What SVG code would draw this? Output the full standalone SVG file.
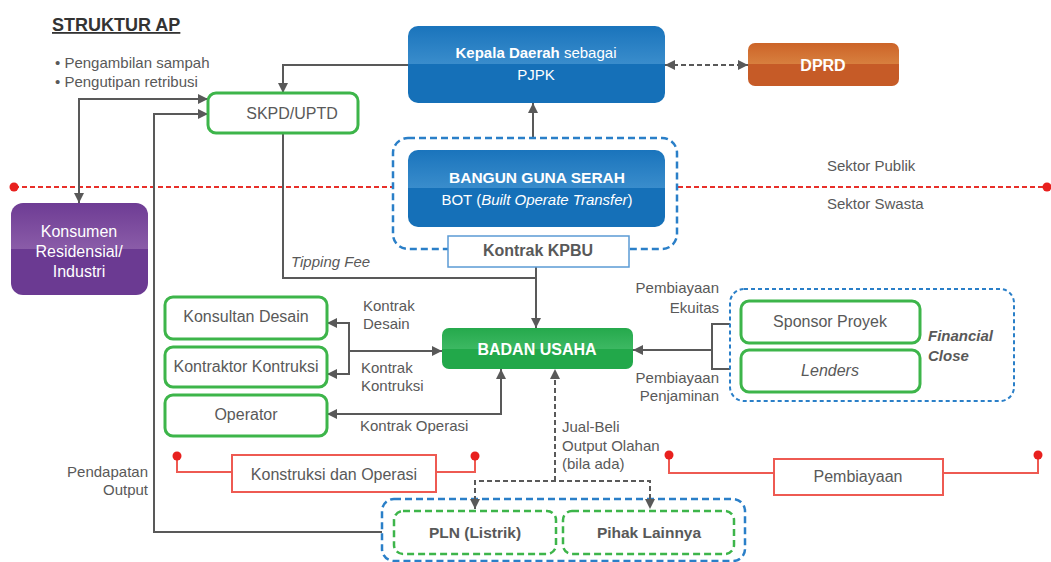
<svg xmlns="http://www.w3.org/2000/svg" width="1051" height="562" viewBox="0 0 1051 562">
  <style>
    text { font-family: "Liberation Sans", Arial, sans-serif; font-size: 15px; fill: #595959; }
    .n { font-size: 16px; }
    .w { fill: #ffffff; }
    .b { font-weight: bold; }
    .i { font-style: italic; }
    .mid { text-anchor: middle; }
    .end { text-anchor: end; }
    .conn { fill: none; stroke: #595959; stroke-width: 2; }
    .dash { stroke-dasharray: 5 3; }
    .gbox { fill: #ffffff; stroke: #3DB54A; stroke-width: 3; }
    .gdash { fill: #ffffff; stroke: #3DB54A; stroke-width: 2.5; stroke-dasharray: 7 4; }
    .bdash { fill: #ffffff; stroke: #2A7FC8; stroke-width: 2.5; stroke-dasharray: 7 4; }
    .red { fill: none; stroke: #EE5A52; stroke-width: 2; }
    .rbox { fill: #ffffff; stroke: #EE5A52; stroke-width: 2; }
    .dot { fill: #E8201E; }
  </style>
  <defs>
    <marker id="ah" viewBox="0 0 10 10" refX="10" refY="5" markerWidth="10" markerHeight="10" markerUnits="userSpaceOnUse" orient="auto-start-reverse">
      <path d="M0,0 L10,5 L0,10 z" fill="#595959"/>
    </marker>
    <linearGradient id="gBlue" x1="0" y1="0" x2="0" y2="1">
      <stop offset="0" stop-color="#1A74BC"/>
      <stop offset="0.5" stop-color="#3A8DCC"/>
      <stop offset="0.5" stop-color="#1570B8"/>
      <stop offset="1" stop-color="#1570B8"/>
    </linearGradient>
    <linearGradient id="gOrange" x1="0" y1="0" x2="0" y2="1">
      <stop offset="0" stop-color="#CC6428"/>
      <stop offset="0.5" stop-color="#D8803F"/>
      <stop offset="0.5" stop-color="#C65B27"/>
      <stop offset="1" stop-color="#C65B27"/>
    </linearGradient>
    <linearGradient id="gPurple" x1="0" y1="0" x2="0" y2="1">
      <stop offset="0" stop-color="#6E3C94"/>
      <stop offset="0.5" stop-color="#8A5CA8"/>
      <stop offset="0.5" stop-color="#6B3A92"/>
      <stop offset="1" stop-color="#6B3A92"/>
    </linearGradient>
    <linearGradient id="gGreen" x1="0" y1="0" x2="0" y2="1">
      <stop offset="0" stop-color="#25A94C"/>
      <stop offset="0.5" stop-color="#3CB862"/>
      <stop offset="0.5" stop-color="#22A84A"/>
      <stop offset="1" stop-color="#22A84A"/>
    </linearGradient>
  </defs>

  <rect width="1051" height="562" fill="#ffffff"/>

  <!-- title and notes -->
  <text x="52" y="31" class="b" style="font-size:18px;fill:#333333;text-decoration:underline">STRUKTUR AP</text>
  <text x="55" y="68">• Pengambilan sampah</text>
  <text x="55" y="87">• Pengutipan retribusi</text>

  <!-- public / private divide -->
  <g id="sector-line">
    <path d="M14,187 H1048" stroke="#E8302A" stroke-width="2" stroke-dasharray="5 3" fill="none"/>
    <circle cx="14" cy="187" r="4.5" class="dot"/>
    <circle cx="1047" cy="187" r="4.5" class="dot"/>
    <text x="827" y="171">Sektor Publik</text>
    <text x="827" y="209">Sektor Swasta</text>
  </g>

  <!-- connectors -->
  <g id="connectors">
    <path class="conn" d="M408,65 H283 V93" marker-end="url(#ah)"/>
    <path class="conn" d="M79,203 V99 H208" marker-start="url(#ah)" marker-end="url(#ah)"/>
    <path class="conn" d="M393,532 H154 V114 H208" marker-end="url(#ah)"/>
    <path class="conn" d="M533,138 V103" marker-end="url(#ah)"/>
    <path class="conn dash" d="M665,65 H748" marker-start="url(#ah)" marker-end="url(#ah)"/>
    <path class="conn" d="M283,133 V278 H536"/>
    <path class="conn" d="M536,267 V328" marker-end="url(#ah)"/>
    <path class="conn" d="M327,323 H349 V374 H327" marker-start="url(#ah)" marker-end="url(#ah)"/>
    <path class="conn" d="M349,351 H442" marker-end="url(#ah)"/>
    <path class="conn" d="M327,414 H501 V369" marker-start="url(#ah)" marker-end="url(#ah)"/>
    <path class="conn" d="M730,324 H712 V369 H730"/>
    <path class="conn" d="M712,350 H633" marker-end="url(#ah)"/>
    <path class="conn dash" d="M555,481 V369" marker-end="url(#ah)"/>
  </g>

  <!-- connector labels -->
  <text x="291" y="267" class="i">Tipping Fee</text>
  <text x="363" y="311">Kontrak</text>
  <text x="363" y="329">Desain</text>
  <text x="361" y="373">Kontrak</text>
  <text x="361" y="391">Kontruksi</text>
  <text x="360" y="431">Kontrak Operasi</text>
  <text x="719" y="293" class="end">Pembiayaan</text>
  <text x="719" y="313" class="end">Ekuitas</text>
  <text x="719" y="383" class="end">Pembiayaan</text>
  <text x="719" y="401" class="end">Penjaminan</text>
  <text x="562" y="432">Jual-Beli</text>
  <text x="562" y="451">Output Olahan</text>
  <text x="562" y="469">(bila ada)</text>
  <text x="148" y="477" class="end">Pendapatan</text>
  <text x="148" y="495" class="end">Output</text>

  <!-- nodes -->
  <g id="kepala-daerah">
    <rect x="408" y="26" width="257" height="77" rx="10" fill="url(#gBlue)"/>
    <text x="536" y="58" class="mid w"><tspan class="b w">Kepala Daerah</tspan> sebagai</text>
    <text x="536" y="80" class="mid w">PJPK</text>
  </g>
  <g id="dprd">
    <rect x="748" y="43" width="151" height="43" rx="7" fill="url(#gOrange)"/>
    <text x="823" y="71" class="mid w b n">DPRD</text>
  </g>
  <g id="skpd">
    <rect x="208" y="93" width="150" height="40" rx="8" class="gbox"/>
    <text x="292" y="119" class="mid n">SKPD/UPTD</text>
  </g>
  <g id="konsumen">
    <rect x="11" y="203" width="137" height="92" rx="12" fill="url(#gPurple)"/>
    <text x="79" y="237" class="mid w n">Konsumen</text>
    <text x="79" y="257" class="mid w n">Residensial/</text>
    <text x="79" y="277" class="mid w n">Industri</text>
  </g>
  <g id="bot">
    <rect x="393" y="138" width="284" height="111" rx="15" class="bdash"/>
    <rect x="408" y="150" width="257" height="77" rx="10" fill="url(#gBlue)"/>
    <text x="537" y="183" class="mid w b" style="font-size:15.5px">BANGUN GUNA SERAH</text>
    <text x="537" y="205" class="mid w">BOT (<tspan class="i w">Built Operate Transfer</tspan>)</text>
  </g>
  <g id="kontrak-kpbu">
    <rect x="448" y="236" width="181" height="31" fill="#ffffff" stroke="#5B9BD5" stroke-width="1.5"/>
    <text x="538" y="256" class="mid b n">Kontrak KPBU</text>
  </g>
  <g id="konsultan-desain">
    <rect x="165" y="297" width="162" height="42" rx="8" class="gbox"/>
    <text x="246" y="322" class="mid n">Konsultan  Desain</text>
  </g>
  <g id="kontraktor">
    <rect x="165" y="347" width="162" height="40" rx="8" class="gbox"/>
    <text x="246" y="372" class="mid n">Kontraktor Kontruksi</text>
  </g>
  <g id="operator">
    <rect x="165" y="395" width="162" height="41" rx="8" class="gbox"/>
    <text x="246" y="420" class="mid n">Operator</text>
  </g>
  <g id="badan-usaha">
    <rect x="442" y="328" width="191" height="41" rx="7" fill="url(#gGreen)"/>
    <text x="537" y="355" class="mid w b n">BADAN USAHA</text>
  </g>
  <g id="financial-close">
    <rect x="730" y="289" width="284" height="112" rx="14" fill="none" stroke="#2A7FC8" stroke-width="2" stroke-dasharray="4 3"/>
    <rect x="741" y="301" width="179" height="42" rx="8" class="gbox"/>
    <text x="830" y="327" class="mid n">Sponsor Proyek</text>
    <rect x="741" y="350" width="179" height="42" rx="8" class="gbox"/>
    <text x="830" y="376" class="mid i n">Lenders</text>
    <text x="928" y="341" class="b i">Financial</text>
    <text x="928" y="361" class="b i">Close</text>
  </g>
  <g id="konstruksi-operasi">
    <path class="red" d="M177,456 V472 H232 M436,472 H475 V456"/>
    <circle cx="177" cy="456" r="4.5" class="dot"/>
    <circle cx="475" cy="456" r="4.5" class="dot"/>
    <rect x="232" y="455" width="204" height="37" class="rbox"/>
    <text x="334" y="480" class="mid n">Konstruksi dan Operasi</text>
  </g>
  <g id="pembiayaan">
    <path class="red" d="M669,455 V473 H774 M943,473 H1038 V455"/>
    <circle cx="669" cy="455" r="4.5" class="dot"/>
    <circle cx="1038" cy="455" r="4.5" class="dot"/>
    <rect x="774" y="459" width="169" height="36" class="rbox"/>
    <text x="858" y="482" class="mid n">Pembiayaan</text>
  </g>
  <g id="offtakers">
    <rect x="382" y="499" width="363" height="62" rx="12" class="bdash"/>
  </g>
  <g id="pln">
    <rect x="394" y="511" width="162" height="43" rx="9" class="gdash"/>
    <text x="475" y="538" class="mid b" style="font-size:15.5px">PLN (Listrik)</text>
  </g>
  <g id="pihak-lainnya">
    <rect x="563" y="511" width="171" height="43" rx="9" class="gdash"/>
    <text x="649" y="538" class="mid b" style="font-size:15.5px">Pihak Lainnya</text>
  </g>

  <!-- split of the output-sale connector, drawn over the offtaker frame -->
  <g id="connectors-offtake">
    <path class="conn dash" d="M475,509 V481 H650 V509" marker-start="url(#ah)" marker-end="url(#ah)"/>
  </g>
</svg>
